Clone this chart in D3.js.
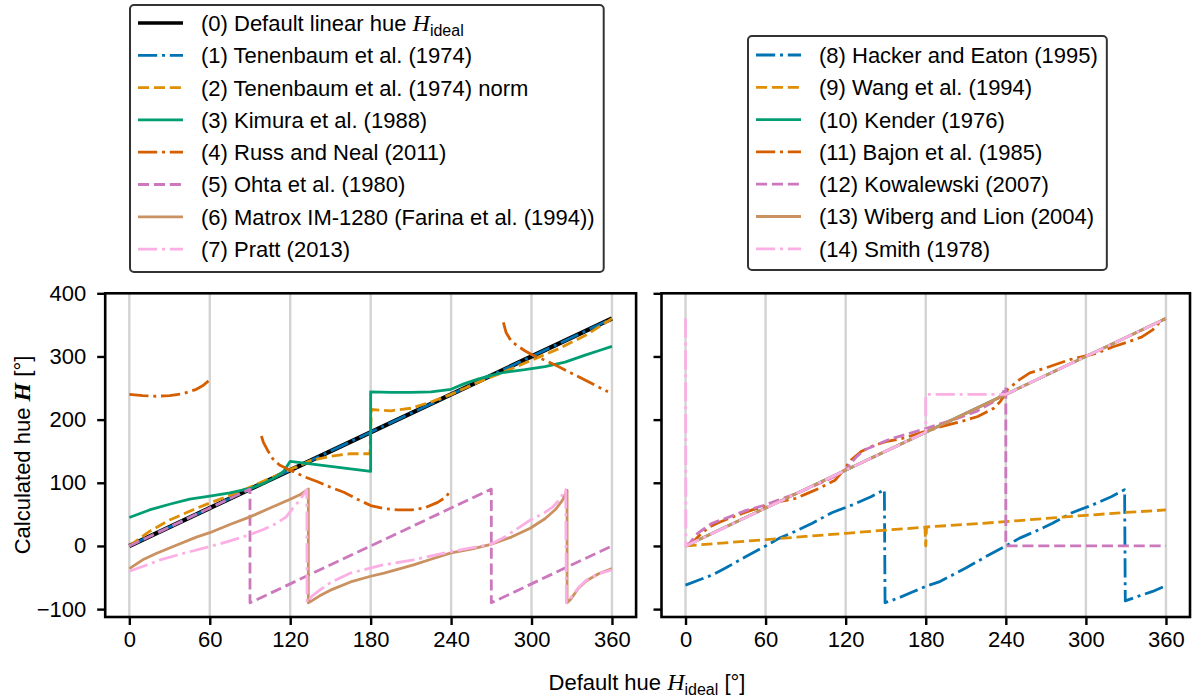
<!DOCTYPE html>
<html>
<head>
<meta charset="utf-8">
<script src="https://cdn.jsdelivr.net/npm/d3@7"></script>
<style>
  body { margin: 0; background: #fff; }
  text { font-family: "Liberation Sans", Arial, sans-serif; fill: #000; }
</style>
</head>
<body>
<svg id="chart" width="1192" height="699"></svg>
<script>
// tick values
const xTicks = [0, 60, 120, 180, 240, 300, 360];
const yTicks = [-100, 0, 100, 200, 300, 400];

// left panel series, [default hue, calculated hue], null = gap
const linearHue = [[0, 0], [360, 360]];
const tenenbaum = [[0, 0], [360, 360]];
const tenenbaumNorm = [[0, 0], [15, 23], [30, 41], [45, 55], [60, 68], [75, 80], [90, 93], [105, 107], [120, 121],
  [135, 135], [150, 142], [165, 146], [179.5, 146], [180.5, 216], [195, 214], [210, 218], [225, 228], [240, 240],
  [260, 259], [280, 276], [300, 294], [320, 312], [340, 333], [360, 360]];
const kimura = [[0, 45], [15, 57], [30, 66], [45, 74], [60, 79], [75, 84], [90, 91], [100, 99], [110, 110], [115, 118],
  [120, 134], [180, 118], [180, 244], [195, 243], [210, 243], [225, 244], [240, 248], [250, 257], [260, 264],
  [270, 270], [280, 275], [295, 279], [310, 284], [325, 291], [340, 302], [350, 309], [360, 316]];
const russNeal = [[0, 240], [10, 238], [20, 237], [30, 238], [40, 241], [50, 248], [55, 254], [60, 263], null,
  [98.5, 174], [100, 164], [103, 152], [107, 138], [112, 128], [120, 120], [130, 110], [140, 102], [150, 93],
  [160, 85], [170, 74], [180, 64], [190, 59], [200, 57], [210, 57], [220, 60], [230, 69], [236, 77], [240, 89], null,
  [279, 354], [281, 338], [285, 324], [290, 316], [295, 309], [300, 303], [310, 294], [320, 284], [333, 270],
  [345, 257], [357, 244]];
const ohta = [[0, 0], [90, 90], [90, -90], [270, 90], [270, -90], [360, 0]];
const matrox = [[0, -36], [10, -22], [20, -12], [35, 1], [50, 14], [60, 21], [75, 34], [90, 46], [105, 60], [120, 74],
  [128, 82], [133.5, 90], [133.5, -90], [136, -87], [142, -79], [150, -70], [165, -57], [180, -48], [190, -43],
  [212, -30], [225, -21], [240, -11], [255, -5], [269, 2], [285, 14], [299, 28], [310, 43], [318, 58], [323, 72],
  [326.5, 88], [326.5, -90], [329, -85], [335, -67], [341, -55], [350, -44], [360, -36]];
const pratt = [[0, -40], [12, -31], [23, -22], [40, -12], [60, -1], [75, 8], [90, 18], [100, 26], [110, 36], [117, 46],
  [122, 60], [127, 72], [132.4, 89], [132.6, -90], [136, -80], [142, -70], [150, -58], [165, -43], [189, -30],
  [212, -22], [240, -9], [260, -1], [269, 2], [280, 14], [299, 41], [310, 53], [316, 62], [321, 74], [325.5, 89],
  [326, -90], [330, -80], [335, -66], [341, -54], [350, -44], [360, -38]];

// right panel series
const hackerEaton = [[0, -62], [10, -54], [20, -46], [30, -35], [45, -17], [60, 0], [70, 12], [82, 23], [95, 36],
  [110, 53], [125, 65], [139, 78], [149, 89], [149.5, -90], [160, -82], [170, -73], [180, -64], [190, -57],
  [200, -46], [210, -35], [225, -17], [240, 0], [250, 12], [262, 23], [275, 36], [290, 53], [305, 65], [319, 78],
  [329, 89], [329.5, -87], [340, -79], [350, -72], [360, -63]];
const wang = [[0, 0], [30, 5], [60, 10], [90, 15], [120, 20], [150, 25], [179.4, 29.6], [180, 0], [180.6, 30],
  [210, 34], [240, 38.5], [270, 43.5], [300, 48.5], [330, 53], [360, 57]];
const kender = [[0, 0], [360, 360]];
const bajon = [[0, 0], [6, 7], [12, 20], [18, 30], [25, 37], [33, 44], [42, 51], [50, 57], [60, 63], [70, 70], [82, 75],
  [90, 82], [100, 91], [112, 104], [118, 119], [124, 136], [132, 150], [140, 158], [150, 165], [164, 171], [179, 181],
  [190, 188], [201, 194], [210, 199], [219, 205], [231, 218], [236, 229], [238.5, 237], [241, 247], [250, 263],
  [258, 274], [270, 282], [288, 295], [300, 301], [308, 305], [320, 315], [333, 324], [342, 331], [350, 342],
  [357, 358], [360, 360]];
const kowalewski = [[0, 0], [3, 4], [9, 20], [20, 36], [33, 46], [45, 56], [60, 65], [70, 73], [82, 82], [95, 94],
  [107, 105], [115, 114], [120, 121], [124, 131], [128, 141], [134, 152], [152, 168], [164, 176], [179, 185],
  [189, 192], [201, 200], [218, 213], [233, 231], [238, 243], [240, 252], [240, 0], [360, 0]];
const wibergLion = [[0, 0], [360, 360]];
const smith = [[0, 360], [0.3, 0], [180, 180], [180, 240], [240, 240], [360, 360]];

const leftLabels = ["(0) Default linear hue ", "(1) Tenenbaum et al. (1974)", "(2) Tenenbaum et al. (1974) norm",
  "(3) Kimura et al. (1988)", "(4) Russ and Neal (2011)", "(5) Ohta et al. (1980)",
  "(6) Matrox IM-1280 (Farina et al. (1994))", "(7) Pratt (2013)"];
const rightLabels = ["(8) Hacker and Eaton (1995)", "(9) Wang et al. (1994)", "(10) Kender (1976)",
  "(11) Bajon et al. (1985)", "(12) Kowalewski (2007)", "(13) Wiberg and Lion (2004)", "(14) Smith (1978)"];

// styles
const C = { black: "#000000", blue: "#0173b2", orange: "#de8f05", green: "#029e73",
  red: "#d55e00", purple: "#cc78bc", tan: "#ca9161", pink: "#fbafe4" };
const DASH = "11.1,4.8", DASHDOT = "19.2,4.8,3,4.8";

const leftSeries = [
  { data: linearHue, color: C.black, dash: null, w: 4.4 },
  { data: tenenbaum, color: C.blue, dash: DASHDOT, w: 2.8 },
  { data: tenenbaumNorm, color: C.orange, dash: DASH, w: 2.8 },
  { data: kimura, color: C.green, dash: null, w: 2.8 },
  { data: russNeal, color: C.red, dash: DASHDOT, w: 2.8 },
  { data: ohta, color: C.purple, dash: DASH, w: 2.8 },
  { data: matrox, color: C.tan, dash: null, w: 2.8 },
  { data: pratt, color: C.pink, dash: DASHDOT, w: 2.8 }
];
const rightSeries = [
  { data: hackerEaton, color: C.blue, dash: DASHDOT, w: 2.8 },
  { data: wang, color: C.orange, dash: DASH, w: 2.8 },
  { data: kender, color: C.green, dash: null, w: 2.8 },
  { data: bajon, color: C.red, dash: DASHDOT, w: 2.8 },
  { data: kowalewski, color: C.purple, dash: DASH, w: 2.8 },
  { data: wibergLion, color: C.tan, dash: null, w: 2.8 },
  { data: smith, color: C.pink, dash: DASHDOT, w: 2.8 }
];

const svg = d3.select("#chart");
const yScale = d3.scaleLinear().domain([-112.5, 400]).range([617, 293.3]);

function panel(x0, x1, series, showYLabels) {
  const x = d3.scaleLinear().domain([-18, 378]).range([x0, x1]);
  const g = svg.append("g");

  // vertical grid
  g.selectAll(".grid").data(xTicks).enter().append("line")
    .attr("x1", d => x(d)).attr("x2", d => x(d))
    .attr("y1", yScale.range()[0]).attr("y2", yScale.range()[1])
    .attr("stroke", "#d3d3d3").attr("stroke-width", 2.4);

  const line = d3.line().defined(d => d !== null).x(d => x(d[0])).y(d => yScale(d[1]));
  series.forEach(s => {
    g.append("path").datum(s.data)
      .attr("fill", "none").attr("stroke", s.color).attr("stroke-width", s.w)
      .attr("stroke-dasharray", s.dash).attr("stroke-linejoin", "round")
      .attr("d", line);
  });

  // axes
  const xa = g.append("g").attr("transform", "translate(0,617)")
    .call(d3.axisBottom(x).tickValues(xTicks).tickSize(8).tickPadding(6));
  const ya = g.append("g").attr("transform", "translate(" + x0 + ",0)")
    .call(d3.axisLeft(yScale).tickValues(yTicks).tickSize(8).tickPadding(11)
      .tickFormat(showYLabels ? d3.format("d") : ""));
  [xa, ya].forEach(a => {
    a.select(".domain").remove();
    a.selectAll("line").attr("stroke-width", 2.4);
    a.selectAll("text").style("font-size", "22px").style("font-family", '"Liberation Sans", Arial, sans-serif');
  });
  xa.selectAll("text").attr("dy", "0.72em");

  g.append("rect").attr("x", x0).attr("y", 293.3).attr("width", x1 - x0).attr("height", 617 - 293.3)
    .attr("fill", "none").attr("stroke", "#000").attr("stroke-width", 2.6);
}

panel(105.2, 636.1, leftSeries, true);
panel(661.5, 1190, rightSeries, false);

// axis labels
const xl = svg.append("text").attr("x", 647).attr("y", 690).attr("text-anchor", "middle").style("font-size", "22px");
xl.append("tspan").text("Default hue ");
xl.append("tspan").text("H").style("font-family", '"Liberation Serif", serif').style("font-style", "italic").style("font-size", "24px");
xl.append("tspan").text("ideal").style("font-size", "16px").attr("dy", 5);
xl.append("tspan").text(" [°]").attr("dy", -5);

const yl = svg.append("text").attr("transform", "translate(30,455) rotate(-90)").attr("text-anchor", "middle")
  .style("font-size", "22px");
yl.append("tspan").text("Calculated hue ");
yl.append("tspan").text("H").style("font-family", '"Liberation Serif", serif').style("font-style", "italic")
  .style("font-weight", "bold").style("font-size", "24px");
yl.append("tspan").text(" [°]");

// legends
function legend(left, top, bottom, firstRow, labels, series, mathFirst) {
  const g = svg.append("g");
  const box = g.append("rect").attr("x", left).attr("y", top).attr("height", bottom - top)
    .attr("rx", 4).attr("fill", "#fff").attr("stroke", "#333").attr("stroke-width", 2);
  let maxEnd = 0;
  labels.forEach((lab, i) => {
    const cy = firstRow + i * 32.3;
    const s = series[i];
    g.append("line").attr("x1", left + 8).attr("x2", left + 53).attr("y1", cy).attr("y2", cy)
      .attr("stroke", s.color).attr("stroke-width", Math.min(s.w, 3.3)).attr("stroke-dasharray", s.dash);
    const t = g.append("text").attr("x", left + 71).attr("y", cy).attr("dy", "0.36em").style("font-size", "22px");
    t.append("tspan").text(lab);
    if (mathFirst && i === 0) {
      t.append("tspan").text("H").style("font-family", '"Liberation Serif", serif').style("font-style", "italic").style("font-size", "24px");
      t.append("tspan").text("ideal").style("font-size", "16px").attr("dy", 5);
    }
    const bb = t.node().getBBox();
    maxEnd = Math.max(maxEnd, bb.x + bb.width);
  });
  box.attr("width", maxEnd + 9 - left);
}

legend(130, 5, 272, 23, leftLabels, leftSeries, true);
legend(748, 36, 270, 55, rightLabels, rightSeries, false);
</script>
</body>
</html>
